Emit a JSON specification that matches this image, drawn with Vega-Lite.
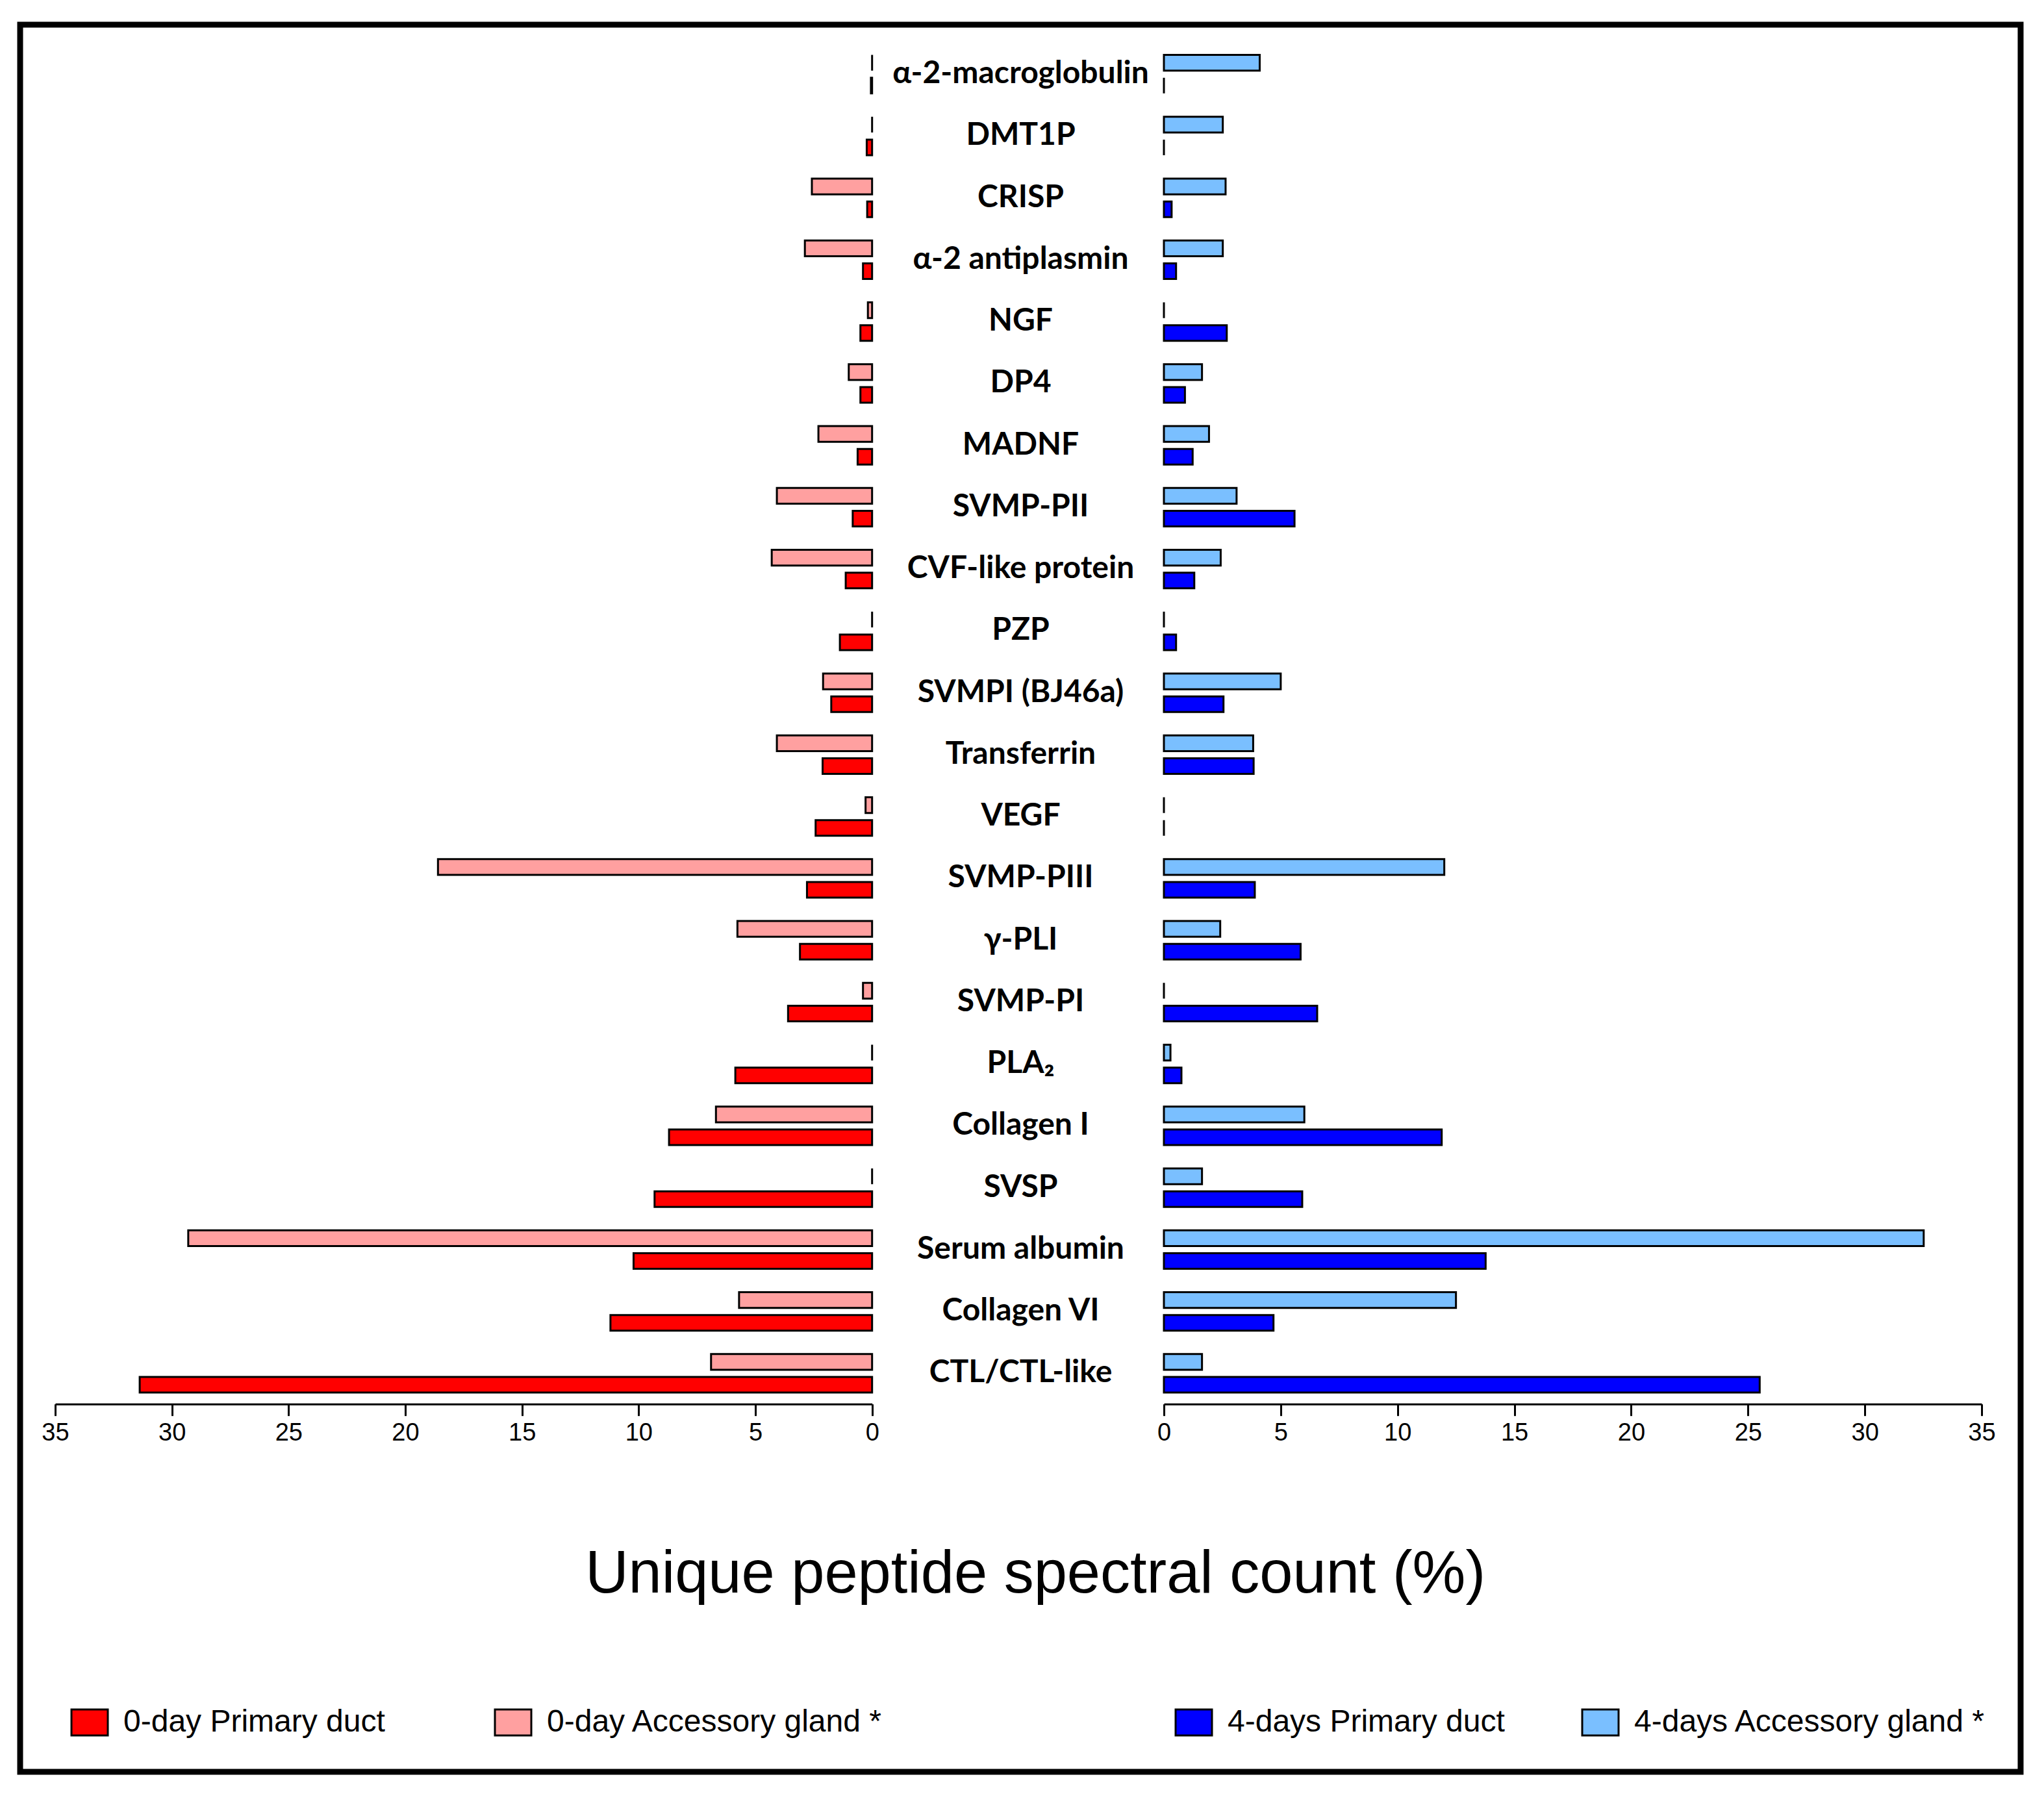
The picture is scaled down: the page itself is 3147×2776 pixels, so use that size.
{
  "$schema": "https://vega.github.io/schema/vega-lite/v6.json",
  "width": 3080,
  "height": 2690,
  "autosize": {"type": "none"},
  "padding": {"left": 31, "top": 38, "right": 36, "bottom": 48},
  "background": "white",
  "config": {"view": {"stroke": "black", "strokeWidth": 9}},
  "data": {
    "values": [
      {"protein": "α-2-macroglobulin", "group": "0-day", "tissue": "Accessory gland", "series": "0-day Accessory gland *", "value": 0},
      {"protein": "α-2-macroglobulin", "group": "0-day", "tissue": "Primary duct", "series": "0-day Primary duct", "value": 0.05},
      {"protein": "α-2-macroglobulin", "group": "4-days", "tissue": "Accessory gland", "series": "4-days Accessory gland *", "value": 4.1},
      {"protein": "α-2-macroglobulin", "group": "4-days", "tissue": "Primary duct", "series": "4-days Primary duct", "value": 0},
      {"protein": "DMT1P", "group": "0-day", "tissue": "Accessory gland", "series": "0-day Accessory gland *", "value": 0},
      {"protein": "DMT1P", "group": "0-day", "tissue": "Primary duct", "series": "0-day Primary duct", "value": 0.23},
      {"protein": "DMT1P", "group": "4-days", "tissue": "Accessory gland", "series": "4-days Accessory gland *", "value": 2.52},
      {"protein": "DMT1P", "group": "4-days", "tissue": "Primary duct", "series": "4-days Primary duct", "value": 0},
      {"protein": "CRISP", "group": "0-day", "tissue": "Accessory gland", "series": "0-day Accessory gland *", "value": 2.58},
      {"protein": "CRISP", "group": "0-day", "tissue": "Primary duct", "series": "0-day Primary duct", "value": 0.21},
      {"protein": "CRISP", "group": "4-days", "tissue": "Accessory gland", "series": "4-days Accessory gland *", "value": 2.64},
      {"protein": "CRISP", "group": "4-days", "tissue": "Primary duct", "series": "4-days Primary duct", "value": 0.33},
      {"protein": "α-2 antiplasmin", "group": "0-day", "tissue": "Accessory gland", "series": "0-day Accessory gland *", "value": 2.88},
      {"protein": "α-2 antiplasmin", "group": "0-day", "tissue": "Primary duct", "series": "0-day Primary duct", "value": 0.39},
      {"protein": "α-2 antiplasmin", "group": "4-days", "tissue": "Accessory gland", "series": "4-days Accessory gland *", "value": 2.52},
      {"protein": "α-2 antiplasmin", "group": "4-days", "tissue": "Primary duct", "series": "4-days Primary duct", "value": 0.52},
      {"protein": "NGF", "group": "0-day", "tissue": "Accessory gland", "series": "0-day Accessory gland *", "value": 0.18},
      {"protein": "NGF", "group": "0-day", "tissue": "Primary duct", "series": "0-day Primary duct", "value": 0.5},
      {"protein": "NGF", "group": "4-days", "tissue": "Accessory gland", "series": "4-days Accessory gland *", "value": 0},
      {"protein": "NGF", "group": "4-days", "tissue": "Primary duct", "series": "4-days Primary duct", "value": 2.69},
      {"protein": "DP4", "group": "0-day", "tissue": "Accessory gland", "series": "0-day Accessory gland *", "value": 1.0},
      {"protein": "DP4", "group": "0-day", "tissue": "Primary duct", "series": "0-day Primary duct", "value": 0.5},
      {"protein": "DP4", "group": "4-days", "tissue": "Accessory gland", "series": "4-days Accessory gland *", "value": 1.63},
      {"protein": "DP4", "group": "4-days", "tissue": "Primary duct", "series": "4-days Primary duct", "value": 0.9},
      {"protein": "MADNF", "group": "0-day", "tissue": "Accessory gland", "series": "0-day Accessory gland *", "value": 2.3},
      {"protein": "MADNF", "group": "0-day", "tissue": "Primary duct", "series": "0-day Primary duct", "value": 0.62},
      {"protein": "MADNF", "group": "4-days", "tissue": "Accessory gland", "series": "4-days Accessory gland *", "value": 1.93},
      {"protein": "MADNF", "group": "4-days", "tissue": "Primary duct", "series": "4-days Primary duct", "value": 1.23},
      {"protein": "SVMP-PII", "group": "0-day", "tissue": "Accessory gland", "series": "0-day Accessory gland *", "value": 4.08},
      {"protein": "SVMP-PII", "group": "0-day", "tissue": "Primary duct", "series": "0-day Primary duct", "value": 0.83},
      {"protein": "SVMP-PII", "group": "4-days", "tissue": "Accessory gland", "series": "4-days Accessory gland *", "value": 3.11},
      {"protein": "SVMP-PII", "group": "4-days", "tissue": "Primary duct", "series": "4-days Primary duct", "value": 5.59},
      {"protein": "CVF-like protein", "group": "0-day", "tissue": "Accessory gland", "series": "0-day Accessory gland *", "value": 4.3},
      {"protein": "CVF-like protein", "group": "0-day", "tissue": "Primary duct", "series": "0-day Primary duct", "value": 1.13},
      {"protein": "CVF-like protein", "group": "4-days", "tissue": "Accessory gland", "series": "4-days Accessory gland *", "value": 2.43},
      {"protein": "CVF-like protein", "group": "4-days", "tissue": "Primary duct", "series": "4-days Primary duct", "value": 1.3},
      {"protein": "PZP", "group": "0-day", "tissue": "Accessory gland", "series": "0-day Accessory gland *", "value": 0},
      {"protein": "PZP", "group": "0-day", "tissue": "Primary duct", "series": "0-day Primary duct", "value": 1.38},
      {"protein": "PZP", "group": "4-days", "tissue": "Accessory gland", "series": "4-days Accessory gland *", "value": 0},
      {"protein": "PZP", "group": "4-days", "tissue": "Primary duct", "series": "4-days Primary duct", "value": 0.52},
      {"protein": "SVMPI (BJ46a)", "group": "0-day", "tissue": "Accessory gland", "series": "0-day Accessory gland *", "value": 2.1},
      {"protein": "SVMPI (BJ46a)", "group": "0-day", "tissue": "Primary duct", "series": "0-day Primary duct", "value": 1.75},
      {"protein": "SVMPI (BJ46a)", "group": "4-days", "tissue": "Accessory gland", "series": "4-days Accessory gland *", "value": 5.0},
      {"protein": "SVMPI (BJ46a)", "group": "4-days", "tissue": "Primary duct", "series": "4-days Primary duct", "value": 2.55},
      {"protein": "Transferrin", "group": "0-day", "tissue": "Accessory gland", "series": "0-day Accessory gland *", "value": 4.08},
      {"protein": "Transferrin", "group": "0-day", "tissue": "Primary duct", "series": "0-day Primary duct", "value": 2.12},
      {"protein": "Transferrin", "group": "4-days", "tissue": "Accessory gland", "series": "4-days Accessory gland *", "value": 3.82},
      {"protein": "Transferrin", "group": "4-days", "tissue": "Primary duct", "series": "4-days Primary duct", "value": 3.84},
      {"protein": "VEGF", "group": "0-day", "tissue": "Accessory gland", "series": "0-day Accessory gland *", "value": 0.28},
      {"protein": "VEGF", "group": "0-day", "tissue": "Primary duct", "series": "0-day Primary duct", "value": 2.42},
      {"protein": "VEGF", "group": "4-days", "tissue": "Accessory gland", "series": "4-days Accessory gland *", "value": 0},
      {"protein": "VEGF", "group": "4-days", "tissue": "Primary duct", "series": "4-days Primary duct", "value": 0},
      {"protein": "SVMP-PIII", "group": "0-day", "tissue": "Accessory gland", "series": "0-day Accessory gland *", "value": 18.6},
      {"protein": "SVMP-PIII", "group": "0-day", "tissue": "Primary duct", "series": "0-day Primary duct", "value": 2.79},
      {"protein": "SVMP-PIII", "group": "4-days", "tissue": "Accessory gland", "series": "4-days Accessory gland *", "value": 12.0},
      {"protein": "SVMP-PIII", "group": "4-days", "tissue": "Primary duct", "series": "4-days Primary duct", "value": 3.89},
      {"protein": "γ-PLI", "group": "0-day", "tissue": "Accessory gland", "series": "0-day Accessory gland *", "value": 5.77},
      {"protein": "γ-PLI", "group": "0-day", "tissue": "Primary duct", "series": "0-day Primary duct", "value": 3.09},
      {"protein": "γ-PLI", "group": "4-days", "tissue": "Accessory gland", "series": "4-days Accessory gland *", "value": 2.41},
      {"protein": "γ-PLI", "group": "4-days", "tissue": "Primary duct", "series": "4-days Primary duct", "value": 5.85},
      {"protein": "SVMP-PI", "group": "0-day", "tissue": "Accessory gland", "series": "0-day Accessory gland *", "value": 0.39},
      {"protein": "SVMP-PI", "group": "0-day", "tissue": "Primary duct", "series": "0-day Primary duct", "value": 3.6},
      {"protein": "SVMP-PI", "group": "4-days", "tissue": "Accessory gland", "series": "4-days Accessory gland *", "value": 0},
      {"protein": "SVMP-PI", "group": "4-days", "tissue": "Primary duct", "series": "4-days Primary duct", "value": 6.56},
      {"protein": "PLA₂", "group": "0-day", "tissue": "Accessory gland", "series": "0-day Accessory gland *", "value": 0},
      {"protein": "PLA₂", "group": "0-day", "tissue": "Primary duct", "series": "0-day Primary duct", "value": 5.86},
      {"protein": "PLA₂", "group": "4-days", "tissue": "Accessory gland", "series": "4-days Accessory gland *", "value": 0.28},
      {"protein": "PLA₂", "group": "4-days", "tissue": "Primary duct", "series": "4-days Primary duct", "value": 0.75},
      {"protein": "Collagen I", "group": "0-day", "tissue": "Accessory gland", "series": "0-day Accessory gland *", "value": 6.69},
      {"protein": "Collagen I", "group": "0-day", "tissue": "Primary duct", "series": "0-day Primary duct", "value": 8.7},
      {"protein": "Collagen I", "group": "4-days", "tissue": "Accessory gland", "series": "4-days Accessory gland *", "value": 6.01},
      {"protein": "Collagen I", "group": "4-days", "tissue": "Primary duct", "series": "4-days Primary duct", "value": 11.89},
      {"protein": "SVSP", "group": "0-day", "tissue": "Accessory gland", "series": "0-day Accessory gland *", "value": 0},
      {"protein": "SVSP", "group": "0-day", "tissue": "Primary duct", "series": "0-day Primary duct", "value": 9.32},
      {"protein": "SVSP", "group": "4-days", "tissue": "Accessory gland", "series": "4-days Accessory gland *", "value": 1.63},
      {"protein": "SVSP", "group": "4-days", "tissue": "Primary duct", "series": "4-days Primary duct", "value": 5.92},
      {"protein": "Serum albumin", "group": "0-day", "tissue": "Accessory gland", "series": "0-day Accessory gland *", "value": 29.3},
      {"protein": "Serum albumin", "group": "0-day", "tissue": "Primary duct", "series": "0-day Primary duct", "value": 10.22},
      {"protein": "Serum albumin", "group": "4-days", "tissue": "Accessory gland", "series": "4-days Accessory gland *", "value": 32.52},
      {"protein": "Serum albumin", "group": "4-days", "tissue": "Primary duct", "series": "4-days Primary duct", "value": 13.77},
      {"protein": "Collagen VI", "group": "0-day", "tissue": "Accessory gland", "series": "0-day Accessory gland *", "value": 5.7},
      {"protein": "Collagen VI", "group": "0-day", "tissue": "Primary duct", "series": "0-day Primary duct", "value": 11.21},
      {"protein": "Collagen VI", "group": "4-days", "tissue": "Accessory gland", "series": "4-days Accessory gland *", "value": 12.5},
      {"protein": "Collagen VI", "group": "4-days", "tissue": "Primary duct", "series": "4-days Primary duct", "value": 4.69},
      {"protein": "CTL/CTL-like", "group": "0-day", "tissue": "Accessory gland", "series": "0-day Accessory gland *", "value": 6.9},
      {"protein": "CTL/CTL-like", "group": "0-day", "tissue": "Primary duct", "series": "0-day Primary duct", "value": 31.38},
      {"protein": "CTL/CTL-like", "group": "4-days", "tissue": "Accessory gland", "series": "4-days Accessory gland *", "value": 1.63},
      {"protein": "CTL/CTL-like", "group": "4-days", "tissue": "Primary duct", "series": "4-days Primary duct", "value": 25.5}
    ]
  },
  "encoding": {
    "y": {
      "field": "protein",
      "type": "nominal",
      "scale": {
        "domain": ["α-2-macroglobulin", "DMT1P", "CRISP", "α-2 antiplasmin", "NGF", "DP4", "MADNF", "SVMP-PII", "CVF-like protein", "PZP", "SVMPI (BJ46a)", "Transferrin", "VEGF", "SVMP-PIII", "γ-PLI", "SVMP-PI", "PLA₂", "Collagen I", "SVSP", "Serum albumin", "Collagen VI", "CTL/CTL-like"],
        "range": [46.6, 2106],
        "paddingInner": 0.379,
        "paddingOuter": 0
      },
      "axis": {
        "title": null,
        "orient": "left",
        "offset": -1540,
        "domain": false,
        "ticks": false,
        "tickSize": 0,
        "grid": false,
        "labelPadding": 0,
        "labelAlign": "center",
        "labelBaseline": "middle",
        "labelLimit": 1000,
        "labelFont": "Lato",
        "labelFontWeight": "bold",
        "labelFontSize": 48,
        "labelColor": "black"
      }
    },
    "yOffset": {
      "field": "tissue",
      "type": "nominal",
      "scale": {"domain": ["Accessory gland", "Primary duct"], "paddingInner": 0.314, "paddingOuter": 0}
    }
  },
  "layer": [
    {
      "transform": [{"filter": "datum.group === '0-day'"}],
      "mark": {"type": "bar", "stroke": "black", "strokeWidth": 3},
      "encoding": {
        "x": {
          "field": "value",
          "type": "quantitative",
          "scale": {"domain": [0, 35], "range": [1311.7, 54], "nice": false},
          "axis": {
            "orient": "bottom",
            "offset": -566.3,
            "values": [0, 5, 10, 15, 20, 25, 30, 35],
            "title": null,
            "grid": false,
            "labelFlush": false,
            "labelOverlap": false,
            "domainColor": "black",
            "domainWidth": 3,
            "tickColor": "black",
            "tickWidth": 3,
            "tickSize": 18,
            "labelPadding": 8,
            "labelFont": "Liberation Sans",
            "labelFontSize": 38,
            "labelColor": "black"
          }
        },
        "color": {
          "field": "series",
          "type": "nominal",
          "scale": {"domain": ["0-day Primary duct", "0-day Accessory gland *"], "range": ["#FF0000", "#FFA0A0"]},
          "legend": {
            "title": null,
            "orient": "none",
            "legendX": 83,
            "legendY": 2590,
            "direction": "horizontal",
            "padding": 0,
            "symbolType": "M-1.4,-1H1.4V1H-1.4Z",
            "symbolSize": 1600,
            "symbolStrokeColor": "black",
            "symbolStrokeWidth": 3,
            "symbolOpacity": 1,
            "labelFont": "Liberation Sans",
            "labelFontSize": 48,
            "labelColor": "black",
            "labelOffset": 28,
            "labelLimit": 1000,
            "columnPadding": 163
          }
        }
      }
    },
    {
      "transform": [{"filter": "datum.group === '4-days'"}],
      "mark": {"type": "bar", "stroke": "black", "strokeWidth": 3},
      "encoding": {
        "x": {
          "field": "value",
          "type": "quantitative",
          "scale": {"domain": [0, 35], "range": [1761, 3020], "nice": false},
          "axis": {
            "orient": "bottom",
            "offset": -566.3,
            "values": [0, 5, 10, 15, 20, 25, 30, 35],
            "title": "Unique peptide spectral count (%)",
            "titleX": 1562.6,
            "titleY": 290,
            "titleAlign": "center",
            "titleBaseline": "alphabetic",
            "titleFont": "Liberation Sans",
            "titleFontSize": 92,
            "titleFontWeight": "normal",
            "titleColor": "black",
            "grid": false,
            "labelFlush": false,
            "labelOverlap": false,
            "domainColor": "black",
            "domainWidth": 3,
            "tickColor": "black",
            "tickWidth": 3,
            "tickSize": 18,
            "labelPadding": 8,
            "labelFont": "Liberation Sans",
            "labelFontSize": 38,
            "labelColor": "black"
          }
        },
        "color": {
          "field": "series",
          "type": "nominal",
          "scale": {"domain": ["4-days Primary duct", "4-days Accessory gland *"], "range": ["#0000FF", "#7ABFFF"]},
          "legend": {
            "title": null,
            "orient": "none",
            "legendX": 1783,
            "legendY": 2590,
            "direction": "horizontal",
            "padding": 0,
            "symbolType": "M-1.4,-1H1.4V1H-1.4Z",
            "symbolSize": 1600,
            "symbolStrokeColor": "black",
            "symbolStrokeWidth": 3,
            "symbolOpacity": 1,
            "labelFont": "Liberation Sans",
            "labelFontSize": 48,
            "labelColor": "black",
            "labelOffset": 28,
            "labelLimit": 1000,
            "columnPadding": 113
          }
        }
      }
    }
  ],
  "resolve": {
    "scale": {"x": "independent", "color": "independent"},
    "axis": {"x": "independent"},
    "legend": {"color": "independent"}
  }
}
